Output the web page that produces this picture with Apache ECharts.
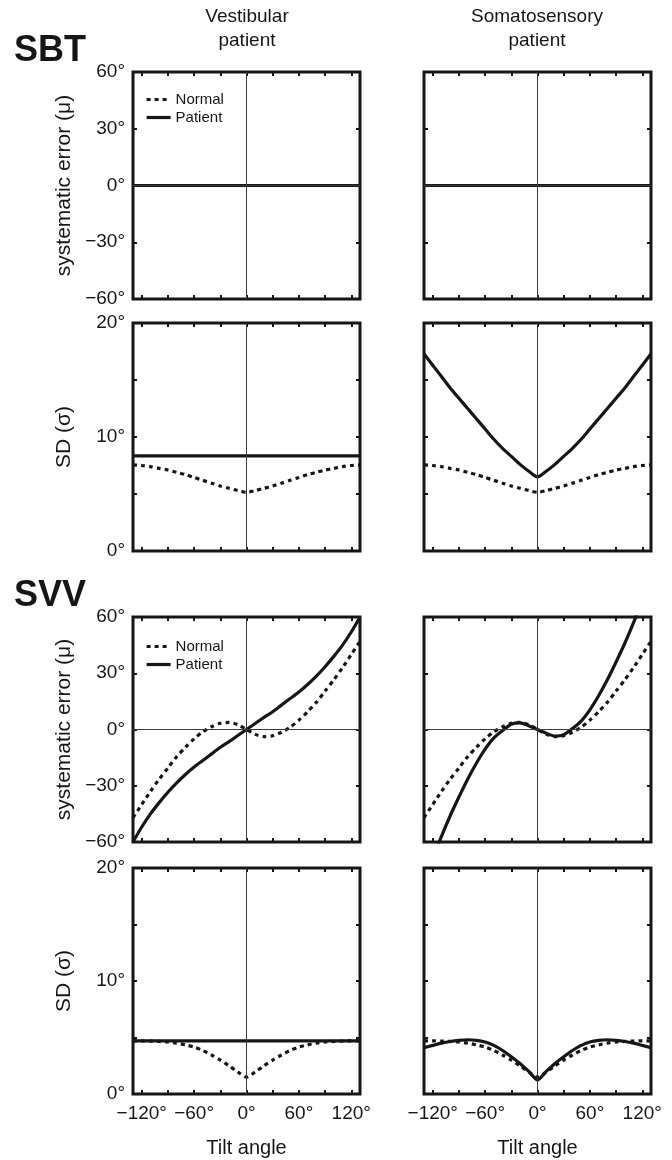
<!DOCTYPE html>
<html>
<head>
<meta charset="utf-8">
<script src="https://cdn.jsdelivr.net/npm/echarts@6/dist/echarts.min.js"></script>
<style>
  html, body { margin: 0; padding: 0; background: #fff; }
  #chart { width: 672px; height: 1160px; }
</style>
</head>
<body>
<div id="chart"></div>
<script>
// ---------------- data ----------------
const angles = [-130,-120,-110,-100,-90,-80,-70,-60,-50,-40,-30,-20,-10,0,10,20,30,40,50,60,70,80,90,100,110,120,130];

const xTickValues = [-120,-90,-60,-30,0,30,60,90,120];
const xLabelValues = [-120,-60,0,60,120];
const muLabelValues = [-60,-30,0,30,60];
const sdLabelValues = [0,10,20];

const rowTitles = ['SBT', 'SVV'];
const colTitles = ['Vestibular\npatient', 'Somatosensory\npatient'];
const seriesNames = ['Normal', 'Patient'];

// SBT systematic error (mu)
const sbtMuNormal      = [0,0,0,0,0,0,0,0,0,0,0,0,0,0,0,0,0,0,0,0,0,0,0,0,0,0,0];
const sbtMuPatientVest = [0,0,0,0,0,0,0,0,0,0,0,0,0,0,0,0,0,0,0,0,0,0,0,0,0,0,0];
const sbtMuPatientSoma = [0,0,0,0,0,0,0,0,0,0,0,0,0,0,0,0,0,0,0,0,0,0,0,0,0,0,0];

// SBT SD (sigma)
const sbtSdNormal      = [7.55,7.5,7.4,7.25,7.1,6.9,6.7,6.45,6.2,5.95,5.7,5.5,5.3,5.15,5.3,5.5,5.7,5.95,6.2,6.45,6.7,6.9,7.1,7.25,7.4,7.5,7.55];
const sbtSdPatientVest = [8.35,8.35,8.35,8.35,8.35,8.35,8.35,8.35,8.35,8.35,8.35,8.35,8.35,8.35,8.35,8.35,8.35,8.35,8.35,8.35,8.35,8.35,8.35,8.35,8.35,8.35,8.35];
const sbtSdPatientSoma = [17.3,16.3,15.3,14.3,13.4,12.5,11.6,10.7,9.8,9.0,8.3,7.6,7.0,6.5,7.0,7.6,8.3,9.0,9.8,10.7,11.6,12.5,13.4,14.3,15.3,16.3,17.3];

// SVV systematic error (mu)
const svvMuNormal      = [-47,-40,-33,-26.5,-20.5,-14.5,-9.5,-5,-1.2,1.5,3.3,3.8,2.6,0,-2.6,-3.8,-3.3,-1.5,1.2,5,9.5,14.5,20.5,26.5,33,40,47];
const svvMuPatientVest = [-60,-52,-45,-39,-33.5,-28.5,-24,-20,-16.5,-13,-9.5,-6.5,-3.2,0,3.2,6.5,9.5,13,16.5,20,24,28.5,33.5,39,45,52,60];
const svvMuPatientSoma = [-82,-69,-57,-46,-36,-26.5,-18,-10.5,-4.5,-0.5,2.8,3.5,2.0,0,-2.0,-3.5,-2.8,0.5,4.5,10.5,18,26.5,36,46,57,69,82];

// SVV SD (sigma)
const svvSdNormal      = [4.7,4.7,4.68,4.65,4.6,4.5,4.35,4.15,3.85,3.45,3.0,2.5,1.95,1.5,1.95,2.5,3.0,3.45,3.85,4.15,4.35,4.5,4.6,4.65,4.68,4.7,4.7];
const svvSdPatientVest = [4.7,4.7,4.7,4.7,4.7,4.7,4.7,4.7,4.7,4.7,4.7,4.7,4.7,4.7,4.7,4.7,4.7,4.7,4.7,4.7,4.7,4.7,4.7,4.7,4.7,4.7,4.7];
const svvSdPatientSoma = [4.1,4.3,4.5,4.65,4.75,4.8,4.75,4.6,4.3,3.85,3.3,2.7,2.0,1.25,2.0,2.7,3.3,3.85,4.3,4.6,4.75,4.8,4.75,4.65,4.5,4.3,4.1];

// ---------------- layout ----------------
const FONT = '"Liberation Sans", Arial, Helvetica, sans-serif';
const INK = '#161616';
const rowTops = [72, 323, 617, 868];
const rowHeights = [227, 228, 225, 226];
const colLefts = [133, 424];
const colWidth = 227;

const panels = [
  {row:0, col:0, kind:'mu', normal:sbtMuNormal, patient:sbtMuPatientVest},
  {row:0, col:1, kind:'mu', normal:sbtMuNormal, patient:sbtMuPatientSoma},
  {row:1, col:0, kind:'sd', normal:sbtSdNormal, patient:sbtSdPatientVest},
  {row:1, col:1, kind:'sd', normal:sbtSdNormal, patient:sbtSdPatientSoma},
  {row:2, col:0, kind:'mu', normal:svvMuNormal, patient:svvMuPatientVest},
  {row:2, col:1, kind:'mu', normal:svvMuNormal, patient:svvMuPatientSoma},
  {row:3, col:0, kind:'sd', normal:svvSdNormal, patient:svvSdPatientVest},
  {row:3, col:1, kind:'sd', normal:svvSdNormal, patient:svvSdPatientSoma}
];

const degFmt = v => (v < 0 ? '\u2212' + Math.abs(v) : String(v)) + '\u00b0';
const pairs = vals => angles.map((a, i) => [a, vals[i]]);

const grid = [], xAxis = [], yAxis = [], series = [];
const tickStyle = { inside: true, length: 4, lineStyle: { color: INK, width: 2 } };

panels.forEach((p, i) => {
  grid.push({
    left: colLefts[p.col], top: rowTops[p.row], width: colWidth, height: rowHeights[p.row],
    show: true, borderColor: INK, borderWidth: 3, backgroundColor: 'transparent'
  });
  const bottomRow = p.row === 3;
  ['bottom', 'top'].forEach((pos, k) => {
    xAxis.push({
      type: 'value', gridIndex: i, position: pos, min: -130, max: 130,
      axisLine: { show: false, onZero: false },
      splitLine: { show: false },
      axisTick: Object.assign({ customValues: xTickValues }, tickStyle),
      axisLabel: {
        show: bottomRow && k === 0, customValues: xLabelValues, formatter: degFmt,
        fontFamily: FONT, fontSize: 19, color: INK, margin: 10
      },
      name: (bottomRow && k === 0) ? 'Tilt angle' : '',
      nameLocation: 'middle', nameGap: 44,
      nameTextStyle: { fontFamily: FONT, fontSize: 20, color: INK }
    });
  });
  const mu = p.kind === 'mu';
  ['left', 'right'].forEach((pos, k) => {
    yAxis.push({
      type: 'value', gridIndex: i, position: pos,
      min: mu ? -60 : 0, max: mu ? 60 : 20, interval: mu ? 30 : 5,
      axisLine: { show: false, onZero: false },
      splitLine: { show: false },
      axisTick: tickStyle,
      axisLabel: {
        show: p.col === 0 && k === 0, customValues: mu ? muLabelValues : sdLabelValues,
        formatter: degFmt, fontFamily: FONT, fontSize: 19, color: INK, margin: 8
      },
      name: (p.col === 0 && k === 0) ? (mu ? 'systematic error (\u03bc)' : 'SD (\u03c3)') : '',
      nameLocation: 'middle', nameGap: 58, nameRotate: 90,
      nameTextStyle: { fontFamily: FONT, fontSize: 21, color: INK }
    });
  });
  const mlData = [{ xAxis: 0 }];
  if (mu) mlData.push({ yAxis: 0 });
  series.push({
    name: seriesNames[0], type: 'line', xAxisIndex: 2 * i, yAxisIndex: 2 * i,
    data: pairs(p.normal), showSymbol: false, symbol: 'none', smooth: 0.25,
    lineStyle: { color: INK, width: 3.2, type: [4, 4], cap: 'butt' },
    itemStyle: { color: INK },
    markLine: {
      silent: true, symbol: ['none', 'none'], animation: false,
      label: { show: false },
      lineStyle: { type: 'solid', width: 1, color: '#3a3a3a' },
      data: mlData
    },
    z: 2
  });
  series.push({
    name: seriesNames[1], type: 'line', xAxisIndex: 2 * i, yAxisIndex: 2 * i,
    data: pairs(p.patient), showSymbol: false, symbol: 'none', smooth: 0.25,
    lineStyle: { color: INK, width: 3.2, type: 'solid' },
    itemStyle: { color: INK },
    z: 3
  });
});

const legendBase = {
  orient: 'vertical', left: 140, itemWidth: 24, itemHeight: 12, itemGap: 3,
  selectedMode: false, data: seriesNames,
  itemStyle: { opacity: 0 },
  lineStyle: { width: 3.2 },
  textStyle: { fontFamily: FONT, fontSize: 15, color: INK, lineHeight: 15 }
};
const legend = [
  Object.assign({}, legendBase, { top: 87 }),
  Object.assign({}, legendBase, { top: 634 })
];

const graphic = [
  { type: 'text', left: 14, top: 33, style: { text: rowTitles[0], font: 'bold 36px ' + FONT, fill: INK } },
  { type: 'text', left: 14, top: 578, style: { text: rowTitles[1], font: 'bold 36px ' + FONT, fill: INK } },
  { type: 'text', x: 247, y: 5, style: { text: colTitles[0], font: '19px ' + FONT, fill: INK, align: 'center', verticalAlign: 'top', lineHeight: 24 } },
  { type: 'text', x: 537, y: 5, style: { text: colTitles[1], font: '19px ' + FONT, fill: INK, align: 'center', verticalAlign: 'top', lineHeight: 24 } }
];

const chart = echarts.init(document.getElementById('chart'), null, { renderer: 'canvas' });
chart.setOption({
  animation: false,
  backgroundColor: '#fff',
  grid, xAxis, yAxis, series, legend, graphic
});
</script>
</body>
</html>
